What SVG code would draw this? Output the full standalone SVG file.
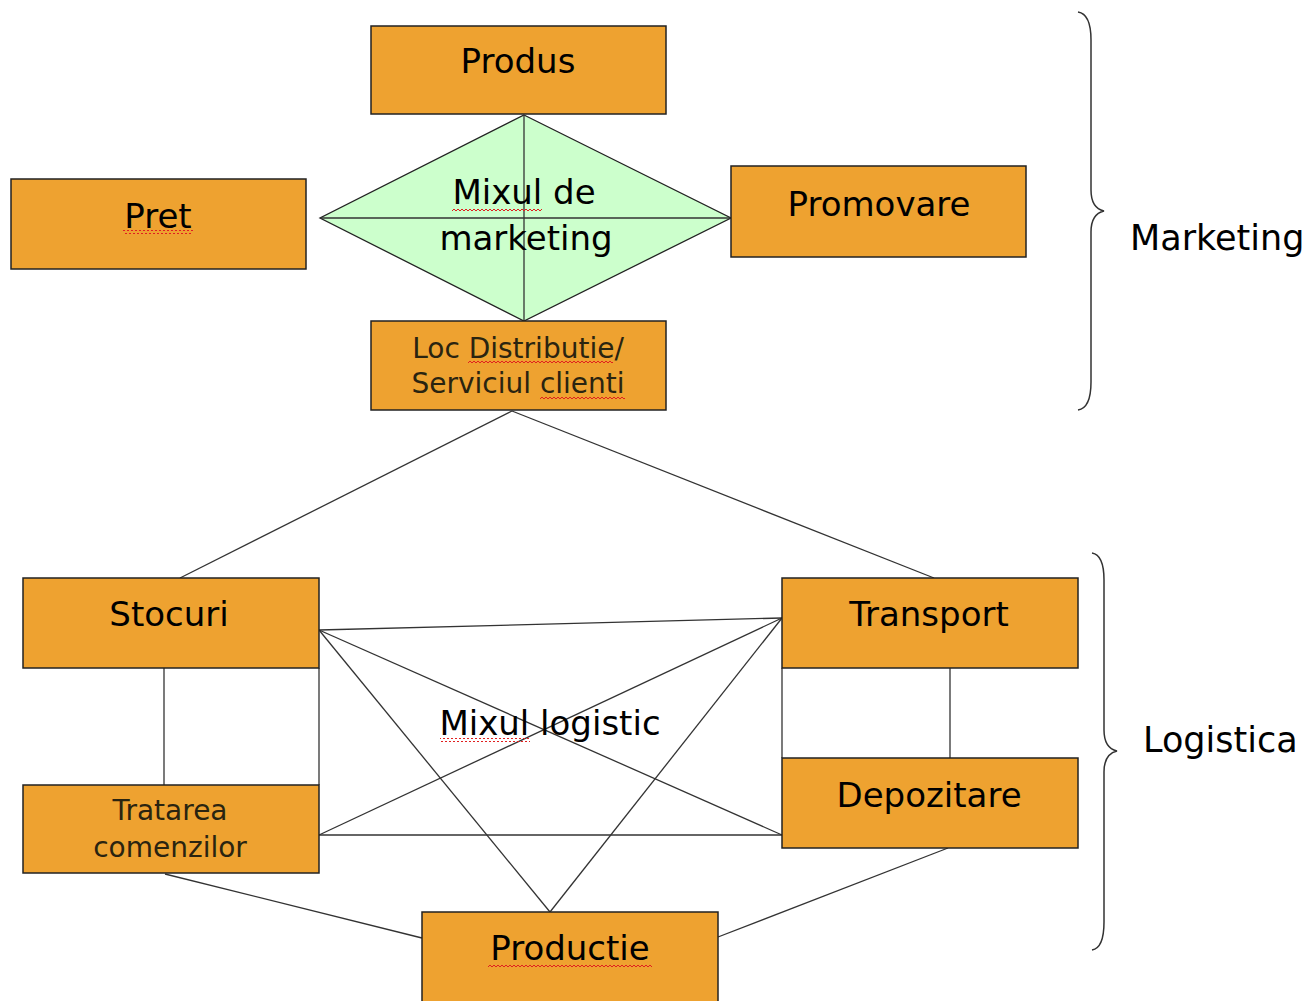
<svg xmlns="http://www.w3.org/2000/svg" width="1314" height="1001" viewBox="0 0 1314 1001">
<style>
.box{fill:#EEA230;stroke:#222;stroke-width:1.5}
.t{font-family:"DejaVu Sans","Liberation Sans",sans-serif;font-size:34px;fill:#000;text-anchor:middle}
.s{font-family:"DejaVu Sans","Liberation Sans",sans-serif;font-size:28px;fill:#2a2410;text-anchor:middle}
.lab{font-family:"DejaVu Sans","Liberation Sans",sans-serif;font-size:35px;fill:#000}
.ln{stroke:#333;stroke-width:1.3;fill:none}
.br{stroke:#333;stroke-width:1.5;fill:none}
</style>
<defs>
<pattern id="wave" width="4" height="4" patternUnits="userSpaceOnUse"><path d="M0 3 L2 1 L4 3" stroke="#e02020" stroke-width="1" fill="none"/></pattern>
</defs>
<rect width="1314" height="1001" fill="#fff"/>
<g id="connectors">
<line class="ln" x1="512" y1="411" x2="180" y2="578"/>
<line class="ln" x1="512" y1="411" x2="934" y2="578"/>
<line class="ln" x1="164" y1="668" x2="164" y2="785"/>
<line class="ln" x1="319" y1="668" x2="319" y2="785"/>
<line class="ln" x1="950" y1="668" x2="950" y2="758"/>
<line class="ln" x1="782" y1="668" x2="782" y2="758"/>
<line class="ln" x1="319" y1="630" x2="782" y2="618"/>
<line class="ln" x1="319" y1="630" x2="782" y2="835"/>
<line class="ln" x1="319" y1="630" x2="550" y2="912"/>
<line class="ln" x1="319" y1="835" x2="782" y2="618"/>
<line class="ln" x1="319" y1="835" x2="782" y2="835"/>
<line class="ln" x1="782" y1="618" x2="550" y2="912"/>
<line class="ln" x1="165" y1="874" x2="422" y2="938"/>
<line class="ln" x1="948" y1="848" x2="718" y2="937"/>
</g>
<g id="mixul-marketing">
<polygon points="524,115 731,218 524,321 320,218" fill="#CCFFCC" stroke="#222" stroke-width="1.3"/>
<line class="ln" x1="320" y1="218" x2="731" y2="218"/>
<line class="ln" x1="524" y1="115" x2="524" y2="321"/>
<text class="t" x="524" y="204">Mixul de</text>
<text class="t" x="526" y="250">marketing</text>
<rect x="452" y="208" width="90" height="4" fill="url(#wave)"/>
</g>
<g id="produs"><rect class="box" x="371" y="26" width="295" height="88"/><text class="t" x="518" y="73">Produs</text></g>
<g id="pret"><rect class="box" x="11" y="179" width="295" height="90"/><text class="t" x="158" y="228">Pret</text><rect x="123" y="230" width="70" height="4" fill="url(#wave)"/></g>
<g id="promovare"><rect class="box" x="731" y="166" width="295" height="91"/><text class="t" x="879" y="216">Promovare</text></g>
<g id="loc"><rect class="box" x="371" y="321" width="295" height="89"/>
<text class="s" x="518" y="358">Loc Distributie/</text>
<text class="s" x="518" y="393">Serviciul clienti</text>
<rect x="468" y="361" width="145" height="4" fill="url(#wave)"/>
<rect x="540" y="395" width="85" height="4" fill="url(#wave)"/>
</g>
<g id="stocuri"><rect class="box" x="23" y="578" width="296" height="90"/><text class="t" x="169" y="626">Stocuri</text></g>
<g id="transport"><rect class="box" x="782" y="578" width="296" height="90"/><text class="t" x="929" y="626">Transport</text></g>
<g id="tratarea"><rect class="box" x="23" y="785" width="296" height="88"/>
<text class="s" x="170" y="820">Tratarea</text>
<text class="s" x="170" y="857">comenzilor</text></g>
<g id="depozitare"><rect class="box" x="782" y="758" width="296" height="90"/><text class="t" x="929" y="807">Depozitare</text></g>
<g id="productie"><rect class="box" x="422" y="912" width="296" height="95"/><text class="t" x="570" y="960">Productie</text><rect x="488" y="963" width="164" height="4" fill="url(#wave)"/></g>
<g id="mixul-logistic"><text class="t" x="550" y="735">Mixul logistic</text><rect x="440" y="738" width="90" height="4" fill="url(#wave)"/></g>
<g id="marketing-brace">
<path class="br" d="M1078,12 Q1091,14 1091,40 L1091,190 Q1091,208 1104,211 Q1091,214 1091,232 L1091,382 Q1091,408 1078,410"/>
<text class="lab" x="1130" y="250">Marketing</text>
</g>
<g id="logistica-brace">
<path class="br" d="M1092,553 Q1104,555 1104,580 L1104,730 Q1104,748 1117,751 Q1104,754 1104,772 L1104,922 Q1104,948 1092,950"/>
<text class="lab" x="1143" y="752">Logistica</text>
</g>
</svg>
